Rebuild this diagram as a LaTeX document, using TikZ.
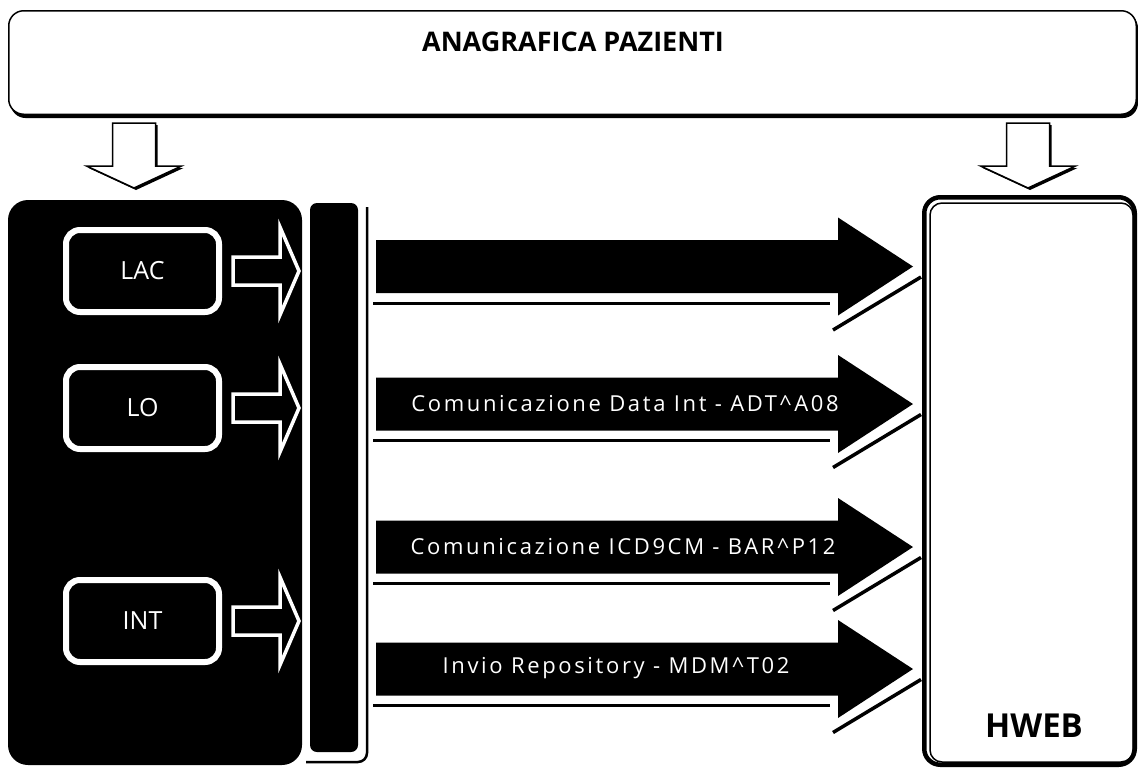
\documentclass[tikz,border=0pt]{standalone}
\usepackage{fontspec}
\setmainfont{Open Sans}
\usetikzlibrary{calc}
\begin{document}
\begin{tikzpicture}[x=1pt,y=-1pt,
  panel/.style={fill=black, rounded corners=20pt, inner sep=0pt},
  srcbox/.style={draw=white, line width=6pt, fill=black, rounded corners=14pt,
     minimum width=153pt, minimum height=82pt, text=white, inner sep=0pt,
     font=\fontsize{25}{27}\selectfont},
  outarrow/.style={draw=white, fill=black, line width=3.5pt, line join=miter},
  bigarrow/.style={fill=black},
  shadowline/.style={draw=black, line width=3pt},
  flowlabel/.style={text=white, inner sep=0pt,
     font=\fontsize{22}{24}\selectfont\addfontfeatures{LetterSpace=12}},
  downarrow/.style={draw=black, fill=white, line width=1.5pt, line join=miter},
  downshadow/.style={fill=black}
]
\useasboundingbox (0,0) rectangle (1138,769);

% top box
\fill[rounded corners=15pt] (10.5,13) rectangle (1138,118);
\node[draw=black, fill=white, line width=1.5pt, rounded corners=15pt,
      minimum width=1127.5pt, minimum height=103.5pt, inner sep=0pt] (paz) at (572.5,62.5) {};
\node[font=\bfseries\fontsize{27}{30}\selectfont, inner sep=0pt] (title) at (573,42) {ANAGRAFICA PAZIENTI};

% left panel
\node[panel, minimum width=294pt, minimum height=565pt] (src) at (155,482.5) {};
\node[srcbox] (lac) at (142.5,271) {LAC};
\node[srcbox] (lo) at (142.5,408) {LO};
\node[srcbox] (int) at (142.5,621) {INT};

% bus bar
\node[fill=black, rounded corners=7pt, minimum width=48pt, minimum height=549pt, inner sep=0pt] (bus) at (334,477.5) {};
\draw[line width=2.5pt, rounded corners=9pt] (367,207) -- (367,762) -- (306,762);

% HWEB
\node[draw=black, line width=4.5pt, rounded corners=16pt, minimum width=210.5pt,
      minimum height=567.5pt, inner sep=0pt] (hweb) at (1029.5,481) {};
\draw[line width=1.5pt, rounded corners=12pt] ($(hweb.north west)+(8,8)$) rectangle ($(hweb.south east)+(-4,-5)$);
\node[font=\bfseries\fontsize{33}{36}\selectfont, inner sep=0pt] (hweblbl) at (1034,726) {HWEB};

% down arrows from top box
\foreach \cx/\nm in {134/src, 1028/hweb}{
  \begin{scope}[shift={(\cx,123)}]
    \fill[downshadow] (-19.5,2) -- (23.5,2) -- (23.5,45) -- (49.5,45) -- (2,67) -- (-45.5,45) -- (-19.5,45) -- cycle;
    \draw[downarrow] (-21.5,0) -- (21.5,0) -- (21.5,43) -- (47.5,43) -- (0,65) -- (-47.5,43) -- (-21.5,43) -- cycle;
  \end{scope}
}

% small outline arrows source -> bus
\foreach \nm in {lac,lo,int}{
  \begin{scope}[shift={(\nm.east)}]
    \draw[outarrow] (11,-14) -- (58,-14) -- (58,-44) -- (77,0) -- (58,44) -- (58,14) -- (11,14) -- cycle;
  \end{scope}
}

% big arrows bus -> hweb
\foreach \c/\nm in {266.5/a1, 404/a2, 547/a3, 669/a4}{
  \draw[shadowline] (373,\c+36.5) -- (830,\c+36.5);
  \draw[line width=3.5pt] (833,\c+63.5) -- (921,\c+10.5);
  \fill[bigarrow] (376,\c-26.5) -- (838,\c-26.5) -- (838,\c-49) -- (913,\c) -- (838,\c+49) -- (838,\c+26.5) -- (376,\c+26.5) -- cycle;
}
\node[flowlabel] (l2) at (625,404) {Comunicazione Data Int - ADT\textasciicircum A08};
\node[flowlabel] (l3) at (623,547) {Comunicazione ICD9CM - BAR\textasciicircum P12};
\node[flowlabel] (l4) at (616,668) {Invio Repository - MDM\textasciicircum T02};
\end{tikzpicture}
\end{document}
